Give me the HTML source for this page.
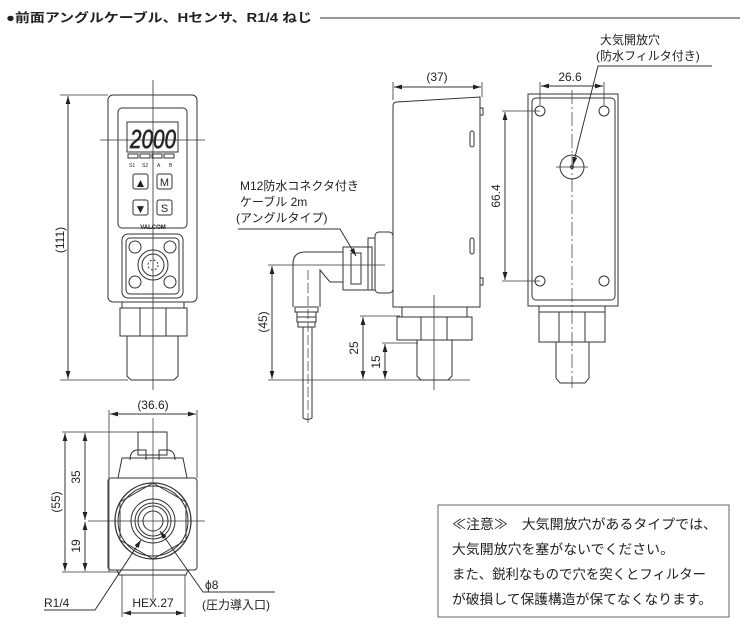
<!DOCTYPE html>
<html><head><meta charset="utf-8"><style>
body{margin:0;background:#fff;width:745px;height:630px;overflow:hidden}
svg{display:block}
text{font-family:"Liberation Sans","Noto Sans CJK JP",sans-serif;fill:#222}
</style></head><body>
<svg width="745" height="630" viewBox="0 0 745 630" xmlns="http://www.w3.org/2000/svg">
<defs>
<marker id="a" viewBox="0 0 10 10" refX="10" refY="5" markerWidth="8" markerHeight="8" orient="auto-start-reverse"><path d="M0,2 L10,5 L0,8 z" fill="#222"/></marker>
</defs>
<text x="6" y="22" font-size="12.5" font-weight="bold" textLength="306" lengthAdjust="spacingAndGlyphs">●前面アングルケーブル、Hセンサ、R1/4 ねじ</text>
<line x1="320" y1="18" x2="740" y2="18" stroke="#333" stroke-width="1"/>

<g fill="none" stroke="#333" stroke-width="1">
<!-- FRONT VIEW -->
<rect x="108" y="95" width="89" height="207" rx="5"/>
<rect x="118" y="108" width="69" height="120" rx="4"/>
<rect x="127" y="122" width="51" height="30"/>
<rect x="128" y="154" width="10" height="4"/><rect x="140" y="154" width="10" height="4"/><rect x="152" y="154" width="10" height="4"/><rect x="164" y="154" width="10" height="4"/>
<rect x="133" y="174" width="15" height="15" rx="2"/><rect x="157" y="174" width="15" height="15" rx="2"/>
<rect x="133" y="200" width="15" height="15" rx="2"/><rect x="157" y="200" width="15" height="15" rx="2"/>
<rect x="122" y="234" width="61" height="64" rx="6"/>
<rect x="126" y="238" width="53" height="56" rx="4"/>
<circle cx="153" cy="265" r="15"/><circle cx="153" cy="265" r="11"/><circle cx="153" cy="265" r="5" stroke-dasharray="2 2"/>
<circle cx="135" cy="247" r="6"/><circle cx="170" cy="247" r="6"/><circle cx="135" cy="282" r="6"/><circle cx="170" cy="282" r="6"/>
<path d="M122,302 V308 H184 V302 M120,308 H187 V336 H120 Z M140,308 V336 M166,308 V336"/>
<path d="M127,336 V376 L131,380 H174 L178,376 V336"/>
<line x1="153" y1="80" x2="153" y2="390" stroke-width="0.8"/>
<line x1="100" y1="140" x2="205" y2="140" stroke-width="0.8"/>
<line x1="60" y1="95" x2="108" y2="95" stroke-width="0.8"/>
<line x1="60" y1="380" x2="128" y2="380" stroke-width="0.8"/>
<line x1="68" y1="96" x2="68" y2="379" marker-start="url(#a)" marker-end="url(#a)"/>

<!-- SIDE VIEW -->
<path d="M397,102 L480,97 V307 H393 V106 Q393,102 397,102 Z"/>
<path d="M480,108 h3 v7 h-3 M480,278 h3 v7 h-3"/>
<rect x="470" y="131" width="4" height="16" rx="2"/><rect x="470" y="238" width="4" height="16" rx="2"/>
<rect x="375" y="232" width="18" height="61" rx="4"/>
<rect x="368" y="238" width="7" height="52"/>
<rect x="343" y="247" width="29" height="43"/>
<rect x="351" y="253" width="10" height="31"/>
<path d="M343,252 H305 Q293,252 293,264 V307 M343,282 H330 L320,270 V307"/>
<path d="M295,307 H318 V312 H295 Z M297,312 H316 V317 H297 Z M297,317 H316 V322 H297 Z M298,322 H315 V327 H298 Z"/>
<path d="M303,327 V418 Q307,421 312,418 V327"/>
<line x1="308" y1="270" x2="308" y2="425" stroke-width="0.7" stroke-dasharray="10 3"/>
<path d="M402,307 V317 M467,307 V317 M397,317 H472 V340 H397 Z M421,317 V340 M447,317 V340"/>
<path d="M417,340 V376 L421,380 H448 L452,376 V340"/>
<line x1="434" y1="295" x2="434" y2="390" stroke-width="0.8"/>
<line x1="393" y1="82" x2="393" y2="100" stroke-width="0.8"/><line x1="482" y1="82" x2="482" y2="97" stroke-width="0.8"/>
<line x1="394" y1="87" x2="481" y2="87" marker-start="url(#a)" marker-end="url(#a)"/>
<line x1="268" y1="265" x2="385" y2="265" stroke-width="0.8"/>
<line x1="268" y1="380" x2="470" y2="380" stroke-width="0.8"/>
<line x1="360" y1="316" x2="400" y2="316" stroke-width="0.8"/>
<line x1="382" y1="343" x2="418" y2="343" stroke-width="0.8"/>
<line x1="272" y1="266" x2="272" y2="379" marker-start="url(#a)" marker-end="url(#a)"/>
<line x1="363" y1="317" x2="363" y2="379" marker-start="url(#a)" marker-end="url(#a)"/>
<line x1="385" y1="344" x2="385" y2="379" marker-start="url(#a)" marker-end="url(#a)"/>
<path d="M238,229 H340 L356,256" marker-end="url(#a)"/>

<!-- BACK VIEW -->
<rect x="528" y="94" width="90" height="212"/>
<rect x="532" y="98" width="83" height="202" rx="4"/>
<circle cx="540" cy="111" r="5"/><circle cx="604" cy="111" r="5"/><circle cx="540" cy="281" r="5"/><circle cx="604" cy="281" r="5"/>
<circle cx="572" cy="167" r="12"/><circle cx="572" cy="167" r="1.5"/>
<path d="M539,306 V312 M605,306 V312 M539,312 H605 V342 H539 Z M559,312 V342 M585,312 V342"/>
<path d="M556,342 V378 L560,383 H585 L589,378 V342"/>
<line x1="572" y1="90" x2="572" y2="388" stroke-width="0.7" stroke-dasharray="14 3 2 3"/>
<line x1="556" y1="167" x2="588" y2="167" stroke-width="0.7"/>
<line x1="540" y1="82" x2="540" y2="105" stroke-width="0.8"/><line x1="604" y1="82" x2="604" y2="105" stroke-width="0.8"/>
<line x1="541" y1="86" x2="603" y2="86" marker-start="url(#a)" marker-end="url(#a)"/>
<line x1="502" y1="111" x2="540" y2="111" stroke-width="0.8"/><line x1="502" y1="281" x2="540" y2="281" stroke-width="0.8"/>
<line x1="505" y1="112" x2="505" y2="280" marker-start="url(#a)" marker-end="url(#a)"/>
<path d="M712,66 H598 L573,165" marker-end="url(#a)"/>

<!-- BOTTOM VIEW -->
<rect x="138" y="432" width="29" height="23"/>
<path d="M130,460 Q130,450 138,450 H146 V460 M175,460 Q175,450 167,450 H159 V460"/>
<path d="M122,458 H183 L187,478 M122,458 L118,478"/>
<rect x="108" y="478" width="89" height="92" rx="3"/>
<path d="M117,570 L119,575 H186 L188,570"/>
<polygon points="153,483 186,502 186,540 153,559 120,540 120,502"/>
<circle cx="153" cy="521" r="38" stroke-width="1.3"/>
<circle cx="153" cy="521" r="35"/>
<circle cx="153" cy="521" r="22"/><circle cx="153" cy="521" r="18"/><circle cx="153" cy="521" r="15"/><circle cx="153" cy="521" r="10"/>
<line x1="153" y1="418" x2="153" y2="600" stroke-width="0.7"/>
<line x1="88" y1="521" x2="205" y2="521" stroke-width="0.7"/>
<line x1="109" y1="410" x2="109" y2="572" stroke-width="0.8"/><line x1="197" y1="410" x2="197" y2="478" stroke-width="0.8"/>
<line x1="110" y1="414" x2="196" y2="414" marker-start="url(#a)" marker-end="url(#a)"/>
<line x1="62" y1="432" x2="167" y2="432" stroke-width="0.8"/>
<line x1="62" y1="572" x2="120" y2="572" stroke-width="0.8"/>
<line x1="65" y1="433" x2="65" y2="571" marker-start="url(#a)" marker-end="url(#a)"/>
<line x1="85" y1="433" x2="85" y2="520" marker-start="url(#a)" marker-end="url(#a)"/>
<line x1="85" y1="522" x2="85" y2="571" marker-start="url(#a)" marker-end="url(#a)"/>
<line x1="122" y1="575" x2="122" y2="617" stroke-width="0.8"/><line x1="185" y1="575" x2="185" y2="617" stroke-width="0.8"/>
<line x1="123" y1="613" x2="184" y2="613" marker-start="url(#a)" marker-end="url(#a)"/>
<path d="M44,610 H95 L141,540" marker-end="url(#a)"/>
<path d="M275,592 H203 L160,531" marker-end="url(#a)"/>

<rect x="438" y="505" width="291" height="112" stroke="#666"/>
</g>

<!-- text -->
<g font-size="12">
<text x="130" y="148" font-size="26" font-family="Liberation Sans" fill="none" stroke="#333" stroke-width="0.7" font-style="italic" textLength="46" lengthAdjust="spacingAndGlyphs">2000</text>
<text x="129" y="167" font-size="5">S1</text><text x="142" y="167" font-size="5">S2</text><text x="157" y="167" font-size="5">A</text><text x="169" y="167" font-size="5">B</text>
<text x="140.5" y="187" font-size="12" text-anchor="middle">▲</text><text x="164.5" y="186" font-size="11" text-anchor="middle" fill="#333">M</text>
<text x="140.5" y="213" font-size="12" text-anchor="middle">▼</text><text x="164.5" y="212" font-size="11" text-anchor="middle" fill="#333">S</text>
<text x="153" y="229" font-size="6" font-weight="bold" text-anchor="middle">VALCOM</text>
<text transform="translate(64,240) rotate(-90)" text-anchor="middle">(111)</text>
<text x="437" y="81" text-anchor="middle">(37)</text>
<text x="240" y="190">M12防水コネクタ付き</text>
<text x="240" y="206">ケーブル 2m</text>
<text x="236" y="222">(アングルタイプ)</text>
<text transform="translate(267,322) rotate(-90)" text-anchor="middle">(45)</text>
<text transform="translate(358,348) rotate(-90)" text-anchor="middle">25</text>
<text transform="translate(380,362) rotate(-90)" text-anchor="middle">15</text>
<text x="570" y="81" text-anchor="middle">26.6</text>
<text transform="translate(500,196) rotate(-90)" text-anchor="middle">66.4</text>
<text x="600" y="44">大気開放穴</text>
<text x="596" y="60">(防水フィルタ付き)</text>
<text x="153" y="409" text-anchor="middle">(36.6)</text>
<text transform="translate(60,502) rotate(-90)" text-anchor="middle">(55)</text>
<text transform="translate(80,477) rotate(-90)" text-anchor="middle">35</text>
<text transform="translate(80,546) rotate(-90)" text-anchor="middle">19</text>
<text x="153" y="607" text-anchor="middle">HEX.27</text>
<text x="44" y="607">R1/4</text>
<text x="205" y="589">ϕ8</text>
<text x="202" y="609">(圧力導入口)</text>
</g>
<g font-size="13.5">
<text x="452" y="529" textLength="265" lengthAdjust="spacingAndGlyphs">≪注意≫　大気開放穴があるタイプでは、</text>
<text x="452" y="554" textLength="222" lengthAdjust="spacingAndGlyphs">大気開放穴を塞がないでください。</text>
<text x="452" y="579" textLength="254" lengthAdjust="spacingAndGlyphs">また、鋭利なもので穴を突くとフィルター</text>
<text x="452" y="604" textLength="260" lengthAdjust="spacingAndGlyphs">が破損して保護構造が保てなくなります。</text>
</g>
</svg>
</body></html>
